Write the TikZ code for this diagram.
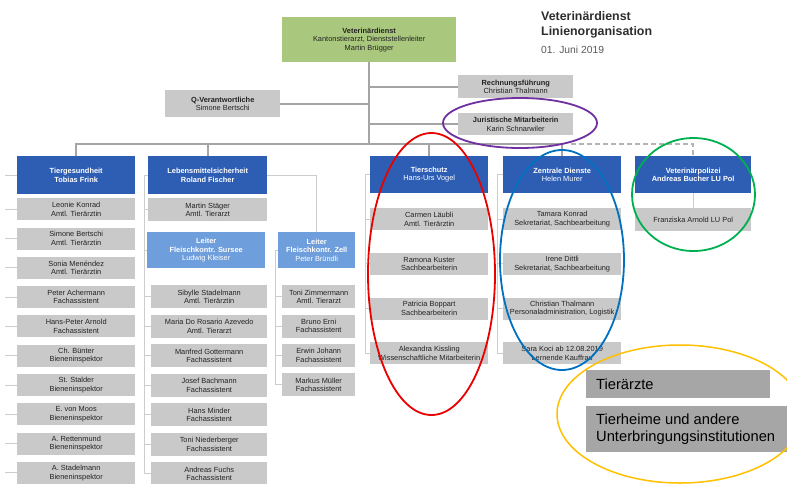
\documentclass[tikz,border=0pt]{standalone}
\usepackage{fontspec}
\setmainfont{Liberation Sans}
\usetikzlibrary{shapes.geometric}
\definecolor{vgreen}{RGB}{170,200,125}
\definecolor{vblue}{RGB}{46,94,180}
\definecolor{vlblue}{RGB}{110,158,220}
\definecolor{vgray}{RGB}{201,201,201}
\definecolor{vlgray}{RGB}{166,166,166}
\definecolor{vline}{RGB}{165,165,165}
\definecolor{vdash}{RGB}{180,180,180}
\definecolor{vthin}{RGB}{205,205,205}
\definecolor{vtext}{RGB}{35,35,35}
\definecolor{vtitle}{RGB}{45,45,45}
\definecolor{vdate}{RGB}{90,90,90}
\definecolor{ringred}{RGB}{235,0,0}
\definecolor{ringpurple}{RGB}{112,48,160}
\definecolor{ringblue}{RGB}{0,112,192}
\definecolor{ringgreen}{RGB}{0,176,80}
\definecolor{ringyellow}{RGB}{255,192,0}
\begin{document}
\begin{tikzpicture}[x=1pt,y=-1pt,
 boxbase/.style={inner sep=0pt, align=center, anchor=north west, font=\fontsize{7.4}{8.4}\selectfont},
 graybox/.style={boxbase, fill=vgray, text=vtext},
 bluebox/.style={boxbase, fill=vblue, text=white},
 lbluebox/.style={boxbase, fill=vlblue, text=white},
 greenbox/.style={boxbase, fill=vgreen, text=vtext},
 bw/.style 2 args={minimum width=#1pt, minimum height=#2pt},
 mainline/.style={draw=vline, line width=2.4pt},
 dashline/.style={draw=vdash, line width=2.4pt, dash pattern=on 5pt off 3pt},
 thinline/.style={draw=vthin, line width=0.9pt},
 ring/.style={draw=#1, ellipse, line width=1.8pt, inner sep=0pt, fill=none},
 legbox/.style={fill=vlgray, inner sep=0pt, anchor=north west},
 legtext/.style={anchor=west, inner sep=0pt, align=left, font=\fontsize{14.7}{17.7}\selectfont, text=black}
]
\fill[white] (0,0) rectangle (787,483);
\useasboundingbox (0,0) rectangle (787,483);

% title
\node[anchor=base west, inner sep=0pt, font=\bfseries\fontsize{12.4}{15}\selectfont, text=vtitle] (t1) at (541,20) {Veterinärdienst};
\node[anchor=base west, inner sep=0pt, font=\bfseries\fontsize{12.4}{15}\selectfont, text=vtitle] (t2) at (541,35.7) {Linienorganisation};
\node[anchor=base west, inner sep=0pt, font=\fontsize{10.3}{12}\selectfont, text=vdate] (t3) at (541,53) {01. Juni 2019};

% top level
\node[greenbox, bw={174}{45}] (vd) at (282,17) {\textbf{Veterinärdienst}\\Kantonstierarzt, Dienststellenleiter\\Martin Brügger};
\node[graybox, bw={115}{27}] (qv) at (165,90) {\textbf{Q-Verantwortliche}\\Simone Bertschi};
\node[graybox, bw={115}{23}] (rf) at (458,75) {\textbf{Rechnungsführung}\\Christian Thalmann};
\node[graybox, bw={115}{22}] (jm) at (458,113) {\textbf{Juristische Mitarbeiterin}\\Karin Schnarwiler};

% departments
\node[bluebox, bw={118}{38}] (tg) at (17,156) {\textbf{Tiergesundheit}\\\textbf{Tobias Frink}};
\node[bluebox, bw={119}{38}] (lm) at (148,156) {\textbf{Lebensmittelsicherheit}\\\textbf{Roland Fischer}};
\node[bluebox, bw={118}{37}] (tsz) at (370,156) {\textbf{Tierschutz}\\Hans-Urs Vogel};
\node[bluebox, bw={118}{37}] (zd) at (503,156) {\textbf{Zentrale Dienste}\\Helen Murer};
\node[bluebox, bw={116}{37}] (vp) at (635,156) {\textbf{Veterinärpolizei}\\\textbf{Andreas Bucher LU Pol}};

% main connectors
\coordinate (bar) at (368,144);
\coordinate (dstart) at (571,144);
\draw[mainline] (vd.south) -- (vd.south |- bar);
\draw[mainline] (qv.east) -- (qv.east -| vd.south);
\draw[mainline] (rf.west) -- (rf.west -| vd.south);
\draw[mainline] (jm.west) -- (jm.west -| vd.south);
\draw[mainline] (tg.north) -- (tg.north |- bar) -- (zd.north |- bar) -- (zd.north);
\draw[mainline] (lm.north) -- (lm.north |- bar);
\draw[mainline] (tsz.north) -- (tsz.north |- bar);
\draw[dashline] (dstart) -- (vp.north |- bar) -- (vp.north);

% Tiergesundheit
\coordinate (tgspine) at (5,174);
\draw[thinline] (tg.west) -- (tg.west -| tgspine);
\foreach \k/\a/\b [evaluate=\k as \t using 198+29.3*\k] in {
 0/Leonie Konrad/Amtl. Tierärztin,
 1/Simone Bertschi/Amtl. Tierärztin,
 2/Sonia Menéndez/Amtl. Tierärztin,
 3/Peter Achermann/Fachassistent,
 4/Hans-Peter Arnold/Fachassistent,
 5/Ch. Bünter/Bieneninspektor,
 6/St. Stalder/Bieneninspektor,
 7/E. von Moos/Bieneninspektor,
 8/A. Rettenmund/Bieneninspektor,
 9/A. Stadelmann/Bieneninspektor}{
  \node[graybox, bw={118}{22}] (tg\k) at (17,\t) {\a\\\b};
  \draw[thinline] (tg\k.west) -- (tg\k.west -| tgspine);
}

% Lebensmittelsicherheit
\coordinate (lmspine) at (144,175);
\node[graybox, bw={119}{23}] (ms) at (148,198) {Martin Stäger\\Amtl. Tierarzt};
\node[lbluebox, bw={118}{36}] (su) at (147,232) {\textbf{Leiter}\\\textbf{Fleischkontr. Sursee}\\Ludwig Kleiser};
\node[lbluebox, bw={77}{36}] (ze) at (278,232) {\textbf{Leiter}\\\textbf{Fleischkontr. Zell}\\Peter Bründli};
\draw[thinline] (lm.east) -| (ze.north);
\draw[thinline] (lm.west) -- (lm.west -| lmspine);
\draw[thinline] (ms.west) -- (ms.west -| lmspine);
\draw[thinline] (su.west) -- (su.west -| lmspine);
\foreach \k/\a/\b [evaluate=\k as \t using 285+29.5*\k] in {
 0/Sibylle Stadelmann/Amtl. Tierärztin,
 1/Maria Do Rosario Azevedo/Amtl. Tierarzt,
 2/Manfred Gottermann/Fachassistent,
 3/Josef Bachmann/Fachassistent,
 4/Hans Minder/Fachassistent,
 5/Toni Niederberger/Fachassistent,
 6/Andreas Fuchs/Fachassistent}{
  \node[graybox, bw={116}{23}] (sf\k) at (151,\t) {\a\\\b};
  \draw[thinline] (sf\k.west) -- (sf\k.west -| lmspine);
}
\draw[thinline] (lmspine) -- (lmspine |- sf6.west);

\coordinate (zespine) at (275,250);
\draw[thinline] (ze.west) -- (ze.west -| zespine);
\foreach \k/\a/\b [evaluate=\k as \t using 285+29.4*\k] in {
 0/Toni Zimmermann/Amtl. Tierarzt,
 1/Bruno Erni/Fachassistent,
 2/Erwin Johann/Fachassistent,
 3/Markus Müller/Fachassistent}{
  \node[graybox, bw={73}{23}] (zf\k) at (282,\t) {\a\\\b};
  \draw[thinline] (zf\k.west) -- (zf\k.west -| zespine);
}
\draw[thinline] (ze.west -| zespine) -- (zespine |- zf3.west);

% Tierschutz
\coordinate (tsspine) at (365,174);
\node[graybox, bw={118}{22}] (ts0) at (370,208) {Carmen Läubli\\Amtl. Tierärztin};
\node[graybox, bw={118}{22}] (ts1) at (370,252.7) {Ramona Kuster\\Sachbearbeiterin};
\node[graybox, bw={118}{22}] (ts2) at (370,297.3) {Patricia Boppart\\Sachbearbeiterin};
\node[graybox, bw={118}{22}] (ts3) at (370,342) {Alexandra Kissling\\Wissenschaftliche Mitarbeiterin};
\draw[thinline] (tsz.west) -- (tsz.west -| tsspine) -- (tsspine |- ts3.west) -- (ts3.west);
\foreach \k in {0,1,2}{\draw[thinline] (ts\k.west) -- (ts\k.west -| tsspine);}

% Zentrale Dienste
\coordinate (zdspine) at (497,174);
\node[graybox, bw={118}{22}] (zd0) at (503,208) {Tamara Konrad\\Sekretariat, Sachbearbeitung};
\node[graybox, bw={118}{22}] (zd1) at (503,252.7) {Irene Dittli\\Sekretariat, Sachbearbeitung};
\node[graybox, bw={118}{22}] (zd2) at (503,297.3) {Christian Thalmann\\Personaladministration, Logistik};
\node[graybox, bw={118}{22}] (zd3) at (503,342) {Sara Koci ab 12.08.2019\\Lernende Kauffrau};
\draw[thinline] (zd.west) -- (zd.west -| zdspine) -- (zdspine |- zd3.west) -- (zd3.west);
\foreach \k in {0,1,2}{\draw[thinline] (zd\k.west) -- (zd\k.west -| zdspine);}

% Veterinaerpolizei
\node[graybox, bw={116}{23}] (fa) at (635,208) {Franziska Arnold LU Pol};
\draw[thinline] (vp.south) -- (fa.north);

% legend
\node[legbox, minimum width=184pt, minimum height=28pt] (lb1) at (586,370) {};
\node[legtext] (lt1) at ([xshift=10pt]lb1.west) {Tierärzte};
\node[legbox, minimum width=201pt, minimum height=46pt] (lb2) at (586,406) {};
\node[legtext] (lt2) at ([xshift=10pt]lb2.west) {Tierheime und andere\\Unterbringungsinstitutionen};

% rings
\node[ring=ringred, minimum width=127pt, minimum height=282pt] (rred) at (431.5,274) {};
\node[ring=ringpurple, minimum width=154pt, minimum height=50pt] (rpurple) at (520,123) {};
\node[ring=ringblue, minimum width=124pt, minimum height=220pt] (rblue) at (562,260) {};
\node[ring=ringgreen, minimum width=123pt, minimum height=113pt] (rgreen) at (693.5,194.5) {};
\node[ring=ringyellow, line width=1.5pt, minimum width=246pt, minimum height=138pt] (ryellow) at (680,414) {};
\end{tikzpicture}
\end{document}
